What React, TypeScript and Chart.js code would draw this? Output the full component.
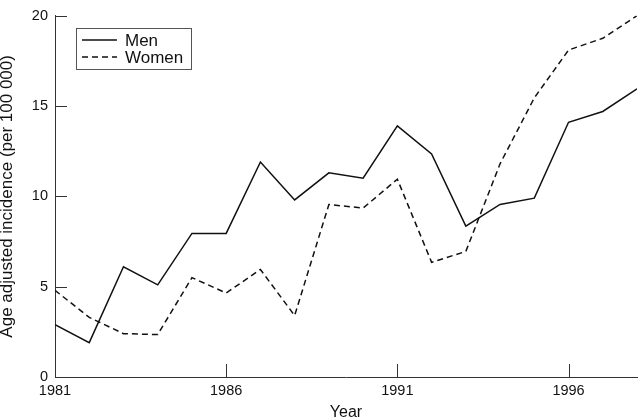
import React, { useEffect, useRef } from "react";
import { Chart, registerables } from "chart.js";

Chart.register(...registerables);

const years = [1981, 1982, 1983, 1984, 1985, 1986, 1987, 1988, 1989, 1990, 1991, 1992, 1993, 1994, 1995, 1996, 1997, 1998];
const men = [2.9, 1.9, 6.1, 5.1, 7.95, 7.95, 11.9, 9.8, 11.3, 11.0, 13.9, 12.35, 8.35, 9.55, 9.9, 14.1, 14.7, 15.95];
const women = [4.8, 3.3, 2.4, 2.35, 5.5, 4.65, 5.95, 3.4, 9.55, 9.35, 10.95, 6.35, 6.95, 11.8, 15.45, 18.1, 18.75, 20.0];
const xTicks = [1981, 1986, 1991, 1996];
const yTicks = [0, 5, 10, 15, 20];
const seriesLabels = ["Men", "Women"];
const xTitle = "Year";
const yTitle = "Age adjusted incidence (per 100 000)";

const FONT = "'Liberation Sans', Arial, Helvetica, sans-serif";

const inwardTicks = {
  id: "inwardTicks",
  afterDraw(chart: any) {
    const { ctx, chartArea, scales } = chart;
    ctx.save();
    ctx.strokeStyle = "#333";
    ctx.lineWidth = 1;
    ctx.beginPath();
    for (const v of xTicks) {
      const px = Math.round(scales.x.getPixelForValue(v)) + 0.5;
      ctx.moveTo(px, chartArea.bottom);
      ctx.lineTo(px, chartArea.bottom - 13);
    }
    for (const v of yTicks) {
      const py = Math.round(scales.y.getPixelForValue(v)) + 0.5;
      ctx.moveTo(chartArea.left, py);
      ctx.lineTo(chartArea.left + 12, py);
    }
    ctx.stroke();
    ctx.restore();
  },
};

const boxLegend = {
  id: "boxLegend",
  afterDraw(chart: any) {
    const { ctx } = chart;
    ctx.save();
    const x0 = 76.5, y0 = 28.5, w = 115, h = 41;
    ctx.strokeStyle = "#555";
    ctx.lineWidth = 1;
    ctx.strokeRect(x0, y0, w, h);
    const rows = [40, 57];
    chart.data.datasets.forEach((ds: any, i: number) => {
      const y = rows[i];
      ctx.strokeStyle = "#111";
      ctx.lineWidth = 1.5;
      ctx.setLineDash(ds.borderDash || []);
      ctx.beginPath();
      ctx.moveTo(82, y);
      ctx.lineTo(117, y);
      ctx.stroke();
      ctx.setLineDash([]);
      ctx.fillStyle = "#111";
      ctx.font = `17px ${FONT}`;
      ctx.textBaseline = "middle";
      ctx.textAlign = "left";
      ctx.fillText(ds.label, 125, y + 1);
    });
    ctx.restore();
  },
};

export default function App() {
  const ref = useRef<HTMLCanvasElement | null>(null);
  useEffect(() => {
    if (!ref.current) return;
    const chart = new Chart(ref.current, {
      type: "line",
      data: {
        datasets: [
          {
            label: seriesLabels[0],
            data: years.map((y, i) => ({ x: y, y: men[i] })),
            borderColor: "#111",
            borderWidth: 1.5,
            pointRadius: 0,
            tension: 0,
            fill: false,
          },
          {
            label: seriesLabels[1],
            data: years.map((y, i) => ({ x: y, y: women[i] })),
            borderColor: "#111",
            borderWidth: 1.5,
            borderDash: [6, 4],
            pointRadius: 0,
            tension: 0,
            fill: false,
          },
        ],
      },
      options: {
        animation: false,
        responsive: false,
        layout: { padding: { top: 5, right: 3, left: 0, bottom: 0 } },
        plugins: { legend: { display: false }, tooltip: { enabled: false } },
        scales: {
          x: {
            type: "linear",
            min: 1981,
            max: 1998,
            grid: { display: false, drawTicks: false },
            border: { display: true, color: "#333", width: 1 },
            afterBuildTicks: (s: any) => {
              s.ticks = xTicks.map((v) => ({ value: v }));
            },
            afterFit: (s: any) => {
              s.height = 42;
            },
            ticks: {
              color: "#111",
              font: { family: FONT, size: 14.5 },
              padding: 5,
              maxRotation: 0,
              callback: (v: any) => String(v),
            },
            title: {
              display: true,
              text: xTitle,
              color: "#111",
              font: { family: FONT, size: 16, lineHeight: 1 },
              padding: { top: 0, bottom: -2 },
            },
          },
          y: {
            type: "linear",
            min: 0,
            max: 20,
            grid: { display: false, drawTicks: false },
            border: { display: true, color: "#333", width: 1 },
            afterBuildTicks: (s: any) => {
              s.ticks = yTicks.map((v) => ({ value: v }));
            },
            afterFit: (s: any) => {
              s.width = 55;
            },
            ticks: {
              color: "#111",
              font: { family: FONT, size: 14.5 },
              padding: 7,
              callback: (v: any) => String(v),
            },
            title: {
              display: true,
              text: yTitle,
              color: "#111",
              font: { family: FONT, size: 17, lineHeight: 1 },
              padding: { top: -1, bottom: 0 },
            },
          },
        },
      },
      plugins: [inwardTicks, boxLegend],
    });
    return () => chart.destroy();
  }, []);
  return (
    <div style={{ position: "fixed", left: 0, top: 0, width: 640, height: 419, background: "#fff" }}>
      <canvas ref={ref} width={640} height={419} />
    </div>
  );
}
